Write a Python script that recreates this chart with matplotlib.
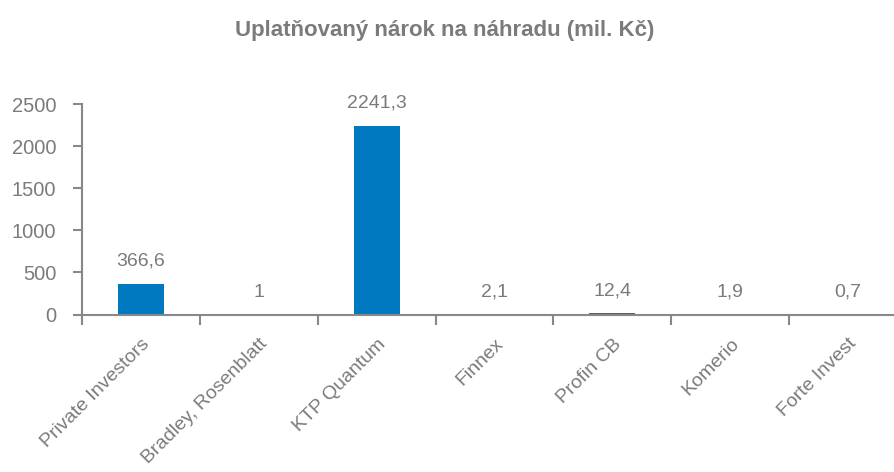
import matplotlib.pyplot as plt
import numpy as np

plt.rcParams["font.family"] = ["Liberation Sans", "DejaVu Sans"]

TITLE = "Uplatňovaný nárok na náhradu (mil. Kč)"
categories = [
    "Private Investors",
    "Bradley, Rosenblatt",
    "KTP Quantum",
    "Finnex",
    "Profin CB",
    "Komerio",
    "Forte Invest",
]
values = [366.6, 1.0, 2241.3, 2.1, 12.4, 1.9, 0.7]
value_labels = ["366,6", "1", "2241,3", "2,1", "12,4", "1,9", "0,7"]
y_ticks = [0, 500, 1000, 1500, 2000, 2500]

BAR_COLOR = "#0079c1"
TEXT_COLOR = "#7b7b7f"
AXIS_COLOR = "#88888c"

fig = plt.figure(figsize=(8.95, 4.72), dpi=100)
# axes run a bit past the right edge, like in the source
ax = fig.add_axes([82 / 895, 157.5 / 472, 825 / 895, 210.5 / 472])

x = np.arange(len(categories))
ax.bar(x, values, width=0.39, color=BAR_COLOR, zorder=2)

for xi, v, lab in zip(x, values, value_labels):
    ax.annotate(lab, (xi, v), xytext=(0, 10), textcoords="offset points",
                ha="center", va="bottom", fontsize=14, color=TEXT_COLOR,
                annotation_clip=False)

ax.set_xlim(-0.5, len(categories) - 0.5)
ax.set_ylim(0, 2500)
ax.set_yticks(y_ticks)
ax.set_yticklabels([str(t) for t in y_ticks])

ax.set_xticks(x)
ax.set_xticklabels(categories, rotation=45, ha="right", rotation_mode="anchor")
ax.set_xticks(np.arange(len(categories)) - 0.5, minor=True)
ax.tick_params(axis="x", which="major", length=0, pad=15, labelsize=14,
               labelcolor=TEXT_COLOR)
ax.tick_params(axis="x", which="minor", length=7, width=1.5, color=AXIS_COLOR,
               direction="out")
ax.tick_params(axis="y", length=6.5, width=1.5, color=AXIS_COLOR, pad=12,
               labelsize=14.5, labelcolor=TEXT_COLOR)

for side in ["top", "right"]:
    ax.spines[side].set_visible(False)
for side in ["left", "bottom"]:
    ax.spines[side].set_color(AXIS_COLOR)
    ax.spines[side].set_linewidth(1.5)

fig.text(0.497, 0.936, TITLE, ha="center", va="center", fontsize=16,
         fontweight="bold", color=TEXT_COLOR)

fig.savefig("out.png", dpi=100)
